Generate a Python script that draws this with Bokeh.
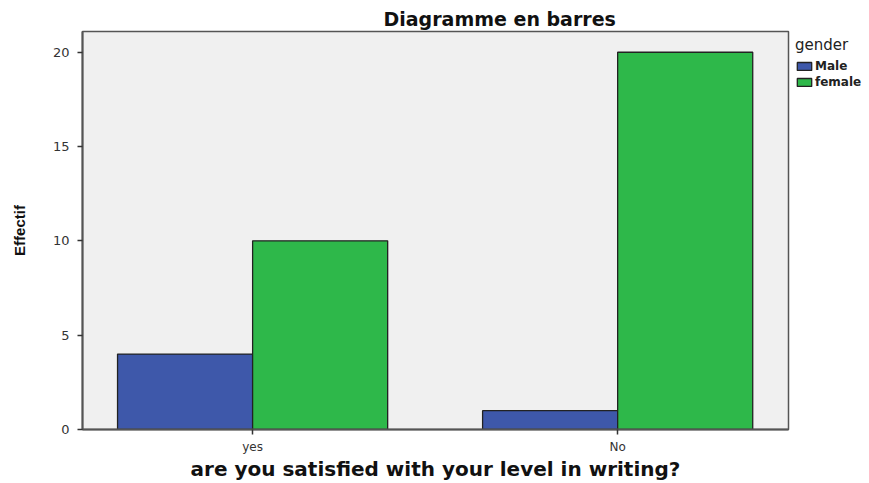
from bokeh.plotting import figure
from bokeh.layouts import row
from bokeh.models import ColumnDataSource, Legend, LegendItem, FixedTicker, Range1d
from bokeh.embed import file_html
from bokeh.resources import INLINE

categories = ["yes", "No"]
genders = ["Male", "female"]
male_counts = [4, 1]
female_counts = [10, 20]
colors = ["#3e58aa", "#2eb84a"]
y_ticks = [0, 5, 10, 15, 20]

xs = list(range(len(categories)))
bar_w = 0.37

src_m = ColumnDataSource(dict(x=[v - bar_w / 2 for v in xs], top=male_counts))
src_f = ColumnDataSource(dict(x=[v + bar_w / 2 for v in xs], top=female_counts))

p = figure(width=790, height=483, output_backend="svg", toolbar_location=None,
           x_range=Range1d(-0.466, 1.468), y_range=Range1d(0, 21.1),
           min_border_left=82, min_border_right=2, min_border_top=31, min_border_bottom=47)

p.background_fill_color = "#f0f0f0"
p.border_fill_color = "white"
p.outline_line_color = "#555555"
p.outline_line_width = 1.5
p.xgrid.visible = False
p.ygrid.visible = False

bar_style = dict(line_color="#222222", line_width=1.3)
rm = p.vbar(x="x", top="top", width=bar_w, bottom=0, source=src_m,
            fill_color=colors[0], **bar_style)
rf = p.vbar(x="x", top="top", width=bar_w, bottom=0, source=src_f,
            fill_color=colors[1], **bar_style)

# Title
p.title.text = "Diagramme en barres"
p.title.text_font = "DejaVu Sans"
p.title.text_font_style = "bold"
p.title.text_font_size = "19px"
p.title.align = "left"
p.title.offset = 301
p.title.standoff = 4
p.title.text_color = "#111111"

# X axis
p.xaxis.ticker = FixedTicker(ticks=xs)
p.xaxis.major_label_overrides = {i: c for i, c in enumerate(categories)}
p.xaxis.axis_label = "are you satisfied with your level in writing?"
p.xaxis.axis_label_text_font = "DejaVu Sans"
p.xaxis.axis_label_text_font_style = "bold"
p.xaxis.axis_label_text_font_size = "20px"
p.xaxis.axis_label_text_color = "#111111"
p.xaxis.axis_label_standoff = 0
p.xaxis.major_label_standoff = 5
p.xaxis.major_label_text_font = "DejaVu Sans"
p.xaxis.major_label_text_font_size = "12px"
p.xaxis.major_label_text_color = "#333333"
p.xaxis.minor_tick_line_color = None
p.xaxis.major_tick_out = 5
p.xaxis.major_tick_in = 0
p.xaxis.axis_line_color = "#555555"
p.xaxis.axis_line_width = 2
p.xaxis.major_tick_line_color = "#333333"
p.xaxis.major_tick_line_width = 1.5

# Y axis
p.yaxis.ticker = FixedTicker(ticks=y_ticks)
p.yaxis.axis_label = "Effectif"
p.yaxis.axis_label_text_font = "Liberation Sans"
p.yaxis.axis_label_text_font_style = "bold"
p.yaxis.axis_label_text_font_size = "15px"
p.yaxis.axis_label_text_color = "#111111"
p.yaxis.axis_label_standoff = 22
p.yaxis.major_label_standoff = 8
p.yaxis.major_label_text_font = "DejaVu Sans"
p.yaxis.major_label_text_font_size = "13px"
p.yaxis.major_label_text_color = "#333333"
p.yaxis.minor_tick_line_color = None
p.yaxis.major_tick_out = 5
p.yaxis.major_tick_in = 0
p.yaxis.axis_line_color = "#555555"
p.yaxis.axis_line_width = 2
p.yaxis.major_tick_line_color = "#333333"
p.yaxis.major_tick_line_width = 1.5

# Legend panel (separate narrow figure to the right of the plot)
lp = figure(width=79, height=483, output_backend="svg", toolbar_location=None,
            x_range=Range1d(0, 1), y_range=Range1d(0, 1),
            x_axis_location=None, y_axis_location=None,
            min_border_left=0, min_border_right=0, min_border_top=31, min_border_bottom=47)
lp.outline_line_color = None
lp.background_fill_color = "white"
lp.border_fill_color = "white"
lp.xgrid.visible = False
lp.ygrid.visible = False

lm = lp.vbar(x="x", top="top", width=bar_w, bottom=0, source=src_m,
             fill_color=colors[0], visible=False, **bar_style)
lf = lp.vbar(x="x", top="top", width=bar_w, bottom=0, source=src_f,
             fill_color=colors[1], visible=False, **bar_style)

legend = Legend(items=[LegendItem(label=genders[0], renderers=[lm]),
                       LegendItem(label=genders[1], renderers=[lf])],
                location="top_left", title="gender")
legend.title_text_font = "DejaVu Sans"
legend.title_text_font_size = "15px"
legend.title_text_font_style = "normal"
legend.title_text_color = "#222222"
legend.title_standoff = 5
legend.label_text_font = "DejaVu Sans"
legend.label_text_font_size = "12px"
legend.label_text_font_style = "bold"
legend.label_text_color = "#222222"
legend.label_standoff = 2
legend.label_height = 11
legend.glyph_width = 18
legend.glyph_height = 10
legend.spacing = 2
legend.padding = 0
legend.margin = 5
legend.border_line_color = None
legend.background_fill_alpha = 0
lp.add_layout(legend, "center")

layout = row(p, lp, spacing=0)
open("out.html", "w").write(file_html(layout, INLINE))
